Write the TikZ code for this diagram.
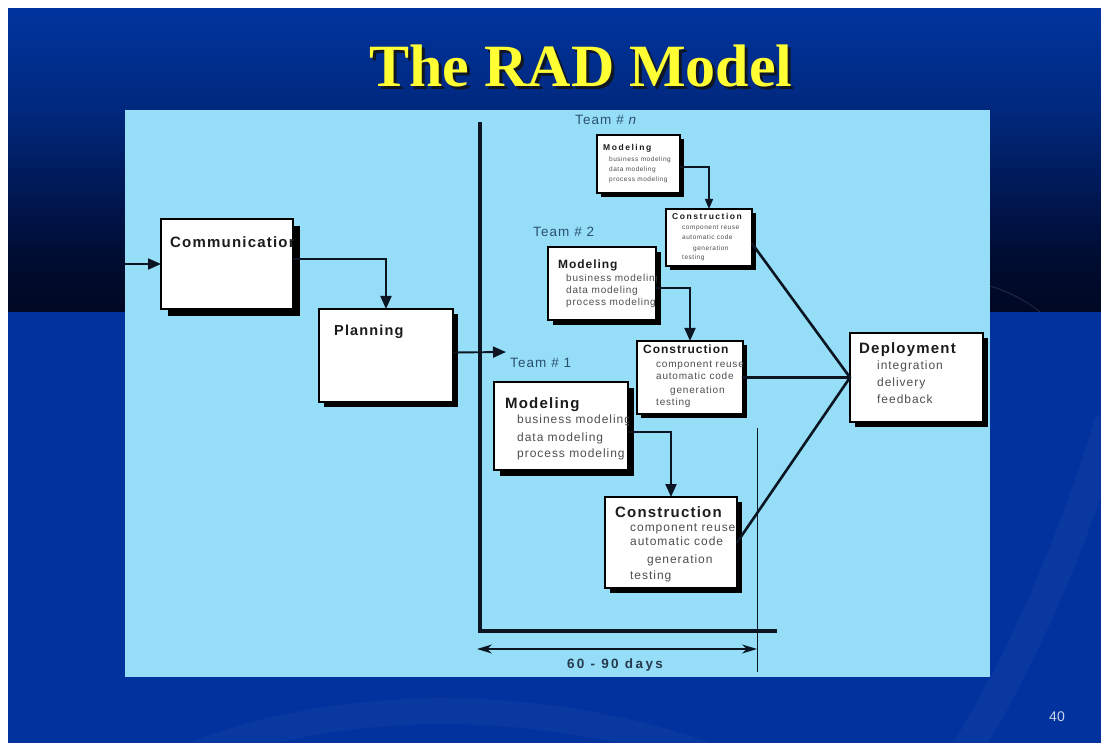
\documentclass[tikz,border=0pt]{standalone}
\usepackage{fontspec}
\setmainfont{Liberation Sans}
\newfontfamily\titlefont{Liberation Serif}
\newfontfamily\txtA{Liberation Sans}[LetterSpace=8]
\newfontfamily\txtB{Liberation Sans}[LetterSpace=18]
\usetikzlibrary{arrows.meta,shadows}

\definecolor{slidelow}{RGB}{2,50,158}
\definecolor{gradA}{RGB}{0,52,158}
\definecolor{gradB}{RGB}{0,40,125}
\definecolor{gradC}{RGB}{0,22,80}
\definecolor{gradD}{RGB}{0,12,48}
\definecolor{gradE}{RGB}{0,8,36}
\definecolor{panel}{RGB}{150,222,248}
\definecolor{titleyellow}{RGB}{255,255,51}
\definecolor{titleshade}{RGB}{16,22,36}
\definecolor{teamcol}{RGB}{42,80,110}
\definecolor{headcol}{RGB}{28,28,28}
\definecolor{itemcol}{RGB}{78,78,78}
\definecolor{linecol}{RGB}{12,22,34}
\definecolor{daycol}{RGB}{38,58,78}
\definecolor{pagenum}{RGB}{205,214,232}

% upper band of the slide: navy fading to near black
\pgfdeclareverticalshading{topband}{100bp}{%
  color(0bp)=(gradE); color(25bp)=(gradE); color(33.6bp)=(gradD);
  color(43.5bp)=(gradC); color(58.3bp)=(gradB); color(75bp)=(gradA);
  color(100bp)=(gradA)}

\newcommand\fsz[1]{\fontsize{#1}{#1}\selectfont}
% text kept inside the frame of a box
\newcommand\inbox[2]{\begin{scope}\clip (#1.south west) rectangle (#1.north east);#2\end{scope}}

\tikzset{
  phase/.style={draw=black, line width=1.1pt, fill=white, inner sep=0pt,
    outer sep=0pt, anchor=north west},
  boxshadow/.style={drop shadow={shadow xshift=#1pt, shadow yshift=-#1pt,
    fill=black, opacity=1}},
  head/.style={anchor=base west, inner sep=0pt, text=headcol},
  item/.style={anchor=base west, inner sep=0pt, text=itemcol},
  team/.style={anchor=base west, inner sep=0pt, text=teamcol,
    font=\txtA\fsz{13.5}},
  flow/.style={draw=linecol, line width=1.9pt,
    -{Triangle[length=13pt,width=11pt]}},
  flowsmall/.style={draw=linecol, line width=1.5pt,
    -{Triangle[length=10pt,width=8pt]}},
  merge/.style={draw=linecol, line width=2.6pt, line cap=round},
  timeline/.style={draw=linecol, line width=4pt},
  marker/.style={draw=linecol, line width=1pt},
  span/.style={draw=linecol, line width=1.4pt,
    {Stealth[length=15pt,width=9pt]}-{Stealth[length=15pt,width=9pt]}},
}

\begin{document}
\begin{tikzpicture}[x=1pt,y=-1pt]
\useasboundingbox (0,0) rectangle (1101,743);
\fill[white] (0,0) rectangle (1101,743);

% slide background
\path[shading=topband] (8,9) rectangle (1101,312);
\fill[slidelow] (8,312) rectangle (1101,743);
\draw[white, opacity=0.12, line width=1pt]
  (990,286) .. controls (1010,292) and (1028,302) .. (1040,312);
\draw[white, opacity=0.03, line width=26pt]
  (180,760) .. controls (350,690) and (560,700) .. (720,760);
\draw[white, opacity=0.03, line width=30pt]
  (960,760) .. controls (1030,650) and (1080,520) .. (1110,420);

% title
\node[anchor=base, inner sep=0pt, font=\titlefont\bfseries\fsz{60},
  text=titleshade] (title-shade) at (584,90) {The RAD Model};
\node[anchor=base, inner sep=0pt, font=\titlefont\bfseries\fsz{60},
  text=titleyellow] (title) at (581,87) {The RAD Model};

% diagram panel
\fill[panel] (125,110) rectangle (990,677);

% boxes
\node[phase, boxshadow=7, minimum width=132pt, minimum height=90pt] (comm) at (161,219) {};
\node[phase, boxshadow=5, minimum width=134pt, minimum height=93pt] (plan) at (319,309) {};
\node[phase, boxshadow=6, minimum width=134pt, minimum height=88pt] (mod1) at (494,382) {};
\node[phase, boxshadow=5, minimum width=132pt, minimum height=91pt] (cons1) at (605,497) {};
\node[phase, boxshadow=5, minimum width=108pt, minimum height=73pt] (mod2) at (548,247) {};
\node[phase, boxshadow=4, minimum width=106pt, minimum height=73pt] (cons2) at (637,341) {};
\node[phase, boxshadow=4, minimum width=83pt, minimum height=58pt] (modn) at (597,135) {};
\node[phase, boxshadow=4, minimum width=86pt, minimum height=57pt] (consn) at (666,209) {};
\node[phase, boxshadow=5, minimum width=133pt, minimum height=89pt] (dep) at (850,333) {};

% box texts
\inbox{comm}{\node[head, font=\txtA\bfseries\fsz{15}] (comm-h) at (170,248) {Communication};}
\inbox{plan}{\node[head, font=\txtA\bfseries\fsz{14.5}] (plan-h) at (334,336) {Planning};}

\inbox{mod1}{
  \node[head, font=\txtA\bfseries\fsz{15}] (mod1-h) at (505,408) {Modeling};
  \node[item, font=\txtA\fsz{12}] (mod1-a) at (517,424) {business modeling};
  \node[item, font=\txtA\fsz{12}] (mod1-b) at (517,441) {data modeling};
  \node[item, font=\txtA\fsz{12}] (mod1-c) at (517,457) {process modeling};}
\inbox{cons1}{
  \node[head, font=\txtA\bfseries\fsz{15}] (cons1-h) at (615,517) {Construction};
  \node[item, font=\txtA\fsz{12}] (cons1-a) at (630,531) {component reuse};
  \node[item, font=\txtA\fsz{12}] (cons1-b) at (630,545) {automatic code};
  \node[item, font=\txtA\fsz{12}] (cons1-c) at (647,563) {generation};
  \node[item, font=\txtA\fsz{12}] (cons1-d) at (630,579) {testing};}

\inbox{mod2}{
  \node[head, font=\txtA\bfseries\fsz{12}] (mod2-h) at (558,269) {Modeling};
  \node[item, font=\txtA\fsz{10}] (mod2-a) at (566,282) {business modeling};
  \node[item, font=\txtA\fsz{10}] (mod2-b) at (566,294) {data modeling};
  \node[item, font=\txtA\fsz{10}] (mod2-c) at (566,306) {process modeling};}
\inbox{cons2}{
  \node[head, font=\txtA\bfseries\fsz{12}] (cons2-h) at (643,354) {Construction};
  \node[item, font=\txtA\fsz{10}] (cons2-a) at (656,368) {component reuse};
  \node[item, font=\txtA\fsz{10}] (cons2-b) at (656,380) {automatic code};
  \node[item, font=\txtA\fsz{10}] (cons2-c) at (670,394) {generation};
  \node[item, font=\txtA\fsz{10}] (cons2-d) at (656,406) {testing};}

\inbox{modn}{
  \node[head, font=\txtB\bfseries\fsz{8.5}] (modn-h) at (603,151) {Modeling};
  \node[item, font=\txtA\fsz{6.5}] (modn-a) at (609,162) {business modeling};
  \node[item, font=\txtA\fsz{6.5}] (modn-b) at (609,172) {data modeling};
  \node[item, font=\txtA\fsz{6.5}] (modn-c) at (609,182) {process modeling};}
\inbox{consn}{
  \node[head, font=\txtB\bfseries\fsz{8.5}] (consn-h) at (672,220) {Construction};
  \node[item, font=\txtA\fsz{6.5}] (consn-a) at (682,230) {component reuse};
  \node[item, font=\txtA\fsz{6.5}] (consn-b) at (682,240) {automatic code};
  \node[item, font=\txtA\fsz{6.5}] (consn-c) at (693,251) {generation};
  \node[item, font=\txtA\fsz{6.5}] (consn-d) at (682,260) {testing};}

\inbox{dep}{
  \node[head, font=\txtA\bfseries\fsz{15}] (dep-h) at (859,354) {Deployment};
  \node[item, font=\txtA\fsz{12}] (dep-a) at (877,370) {integration};
  \node[item, font=\txtA\fsz{12}] (dep-b) at (877,387) {delivery};
  \node[item, font=\txtA\fsz{12}] (dep-c) at (877,403) {feedback};}

% team labels
\node[team] (team1) at (510,367) {Team \# 1};
\node[team] (team2) at (533,237) {Team \# 2};
\node[team] (teamn) at (575,125) {Team \# \textit{n}};

% free ends of connectors
\coordinate (entry) at (125,264);
\coordinate (t1in) at (506,352);
\coordinate (tl-top) at (480,122);
\coordinate (tl-corner) at (480,631);
\coordinate (tl-end) at (777,631);
\coordinate (mk-top) at (757,428);
\coordinate (mk-bot) at (757,672);
\coordinate (span-l) at (477,649);
\coordinate (span-r) at (757,649);

% process flow
\draw[flow] (entry) -- (entry -| comm.west);
\draw[flow] ([yshift=5pt]comm.east) -| (plan.north);
\draw[flow] ([yshift=3pt]plan.east) -- (t1in);
\draw[flow] ([yshift=-6pt]mod1.east) -| (cons1.north);
\draw[flow] ([yshift=-4.5pt]mod2.east) -| (cons2.north);
\draw[flowsmall] ([yshift=-3pt]modn.east) -| (consn.north);

% all teams feed deployment
\draw[merge] ([yshift=-6pt]consn.east) -- (dep.west);
\draw[merge] (cons2.east) -- (dep.west);
\draw[merge] (cons1.east) -- (dep.west);

% time frame
\draw[timeline] (tl-top) -- (tl-corner) -- (tl-end);
\draw[marker] (mk-top) -- (mk-bot);
\draw[span] (span-l) -- (span-r);
\node[anchor=base, inner sep=0pt, text=daycol, font=\txtB\bfseries\fsz{13.5}]
  (days) at (615,668) {60 - 90 days};

% page number
\node[anchor=base, inner sep=0pt, text=pagenum, font=\fsz{14}] (page) at (1057,721) {40};
\end{tikzpicture}
\end{document}
